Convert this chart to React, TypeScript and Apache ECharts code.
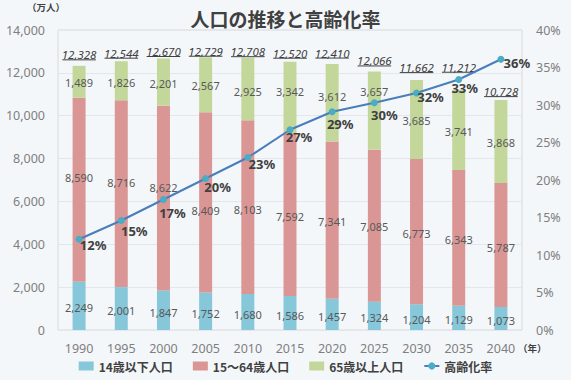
import React, { useEffect, useRef } from "react";
import * as echarts from "echarts";

const years = ["1990", "1995", "2000", "2005", "2010", "2015", "2020", "2025", "2030", "2035", "2040"];
const under14 = [2249, 2001, 1847, 1752, 1680, 1586, 1457, 1324, 1204, 1129, 1073];
const age15to64 = [8590, 8716, 8622, 8409, 8103, 7592, 7341, 7085, 6773, 6343, 5787];
const over65 = [1489, 1826, 2201, 2567, 2925, 3342, 3612, 3657, 3685, 3741, 3868];
const totals = [12328, 12544, 12670, 12729, 12708, 12520, 12410, 12066, 11662, 11212, 10728];
const agingRate = [12.1, 14.6, 17.4, 20.2, 23.0, 26.7, 29.1, 30.3, 31.6, 33.4, 36.1];

// label placement tweaks (not data)
const midLabelShift = [-12, -11, -11, 8, 2, 2, 1, 1, 2, 2, 2];
const topLabelShift = [1, 2, 1, 1, 2, -6, -6, -19, 1, 2, 1];
const totalLabelShift = [-11, -8, -7, -6, -6, -8.5, -11, -10.5, -12.5, -22.5, -8.5];
const rateLabelShift: [number, number][] = [
  [14, 6], [13, 10], [9, 13], [12, 8], [14, 6], [9, 7], [8, 12], [10, 12], [14, 4], [6, 8], [16, 4],
];

const FONT = "'Noto Sans', 'Noto Sans CJK JP', sans-serif";
const JP = "'Noto Sans CJK JP', sans-serif";
const fmt = (v: number) => v.toLocaleString("en-US");

export default function App() {
  const ref = useRef<HTMLDivElement>(null);
  useEffect(() => {
    if (!ref.current) return;
    const chart = echarts.init(ref.current, undefined, { renderer: "svg" });
    const barLabel = {
      show: true,
      position: "inside",
      color: "#595959",
      fontSize: 11,
      fontFamily: FONT,
      formatter: (p: any) => fmt(p.value),
    };
    chart.setOption({
      animation: false,
      backgroundColor: "#f4f7fa",
      textStyle: { fontFamily: FONT },
      title: {
        text: "人口の推移と高齢化率",
        left: "center",
        top: 4,
        textStyle: { fontSize: 19, fontWeight: "bold", color: "#404040", fontFamily: JP },
      },
      graphic: [
        {
          type: "text",
          left: 27,
          top: 2,
          style: { text: "（万人）", fontSize: 9.5, fontWeight: "bold", fill: "#404040", fontFamily: JP },
        },
        {
          type: "text",
          left: 518,
          top: 343,
          style: { text: "（年）", fontSize: 9.5, fontWeight: "bold", fill: "#404040", fontFamily: JP },
        },
      ],
      legend: {
        bottom: 3,
        left: "center",
        itemWidth: 15,
        itemHeight: 9,
        itemGap: 20,
        data: [
          { name: "14歳以下人口", icon: "rect" },
          { name: "15～64歳人口", icon: "rect" },
          { name: "65歳以上人口", icon: "rect" },
          "高齢化率",
        ],
        textStyle: { fontSize: 12, fontWeight: "bold", color: "#404040", fontFamily: JP },
      },
      grid: {
        left: 58,
        right: 49,
        top: 30,
        bottom: 50,
        show: true,
        borderColor: "#d9d9d9",
        borderWidth: 1,
        backgroundColor: "transparent",
      },
      xAxis: {
        type: "category",
        data: years,
        axisLine: { show: false },
        axisTick: { show: false },
        axisLabel: { color: "#7f7f7f", fontSize: 12.5, margin: 12 },
      },
      yAxis: [
        {
          type: "value",
          min: 0,
          max: 14000,
          interval: 2000,
          axisLine: { show: false },
          axisTick: { show: false },
          splitLine: { lineStyle: { color: "#e3e6ea" } },
          axisLabel: { color: "#7f7f7f", fontSize: 12.5, margin: 13, formatter: (v: number) => fmt(v) },
        },
        {
          type: "value",
          min: 0,
          max: 40,
          interval: 5,
          axisLine: { show: false },
          axisTick: { show: false },
          splitLine: { show: false },
          axisLabel: { color: "#7f7f7f", fontSize: 12.5, margin: 14, formatter: "{value}%" },
        },
      ],
      series: [
        {
          name: "14歳以下人口",
          type: "bar",
          stack: "pop",
          barWidth: 13,
          itemStyle: { color: "#86c7d9" },
          label: { ...barLabel, offset: [0, 2] },
          data: under14,
        },
        {
          name: "15～64歳人口",
          type: "bar",
          stack: "pop",
          barWidth: 13,
          itemStyle: { color: "#da9694" },
          label: barLabel,
          data: age15to64.map((v, i) => ({ value: v, label: { offset: [0, midLabelShift[i]] } })),
        },
        {
          name: "65歳以上人口",
          type: "bar",
          stack: "pop",
          barWidth: 13,
          itemStyle: { color: "#c4d79b" },
          label: barLabel,
          data: over65.map((v, i) => ({ value: v, label: { offset: [0, topLabelShift[i]] } })),
        },
        {
          name: "総人口",
          type: "custom",
          z: 5,
          data: totals.map((t, i) => [i, t]),
          renderItem: (params: any, api: any) => {
            const idx = api.value(0);
            const total = api.value(1);
            const pt = api.coord([idx, total]);
            const txt = fmt(total);
            const w = txt.length * 5.6;
            const cy = pt[1] + totalLabelShift[idx];
            return {
              type: "group",
              children: [
                {
                  type: "text",
                  x: pt[0],
                  y: cy,
                  style: {
                    text: txt,
                    fill: "#404040",
                    fontSize: 11.5,
                    fontStyle: "italic",
                    fontFamily: FONT,
                    align: "center",
                    verticalAlign: "middle",
                  },
                },
                {
                  type: "line",
                  shape: { x1: pt[0] - w / 2, y1: cy + 5, x2: pt[0] + w / 2, y2: cy + 5 },
                  style: { stroke: "#404040", lineWidth: 1 },
                },
              ],
            };
          },
        },
        {
          name: "高齢化率",
          type: "line",
          yAxisIndex: 1,
          z: 10,
          symbol: "circle",
          symbolSize: 7,
          lineStyle: { color: "#4a7ebb", width: 2 },
          itemStyle: { color: "#4bacc6" },
          label: {
            show: true,
            position: "inside",
            color: "#404040",
            fontSize: 13,
            fontWeight: "bold",
            fontFamily: FONT,
            formatter: (p: any) => Math.round(p.value) + "%",
          },
          data: agingRate.map((v, i) => ({ value: v, label: { offset: rateLabelShift[i] } })),
        },
      ],
    });
    return () => chart.dispose();
  }, []);
  return (
    <div
      ref={ref}
      style={{ position: "absolute", left: 0, top: 0, width: 571, height: 380 }}
    />
  );
}
